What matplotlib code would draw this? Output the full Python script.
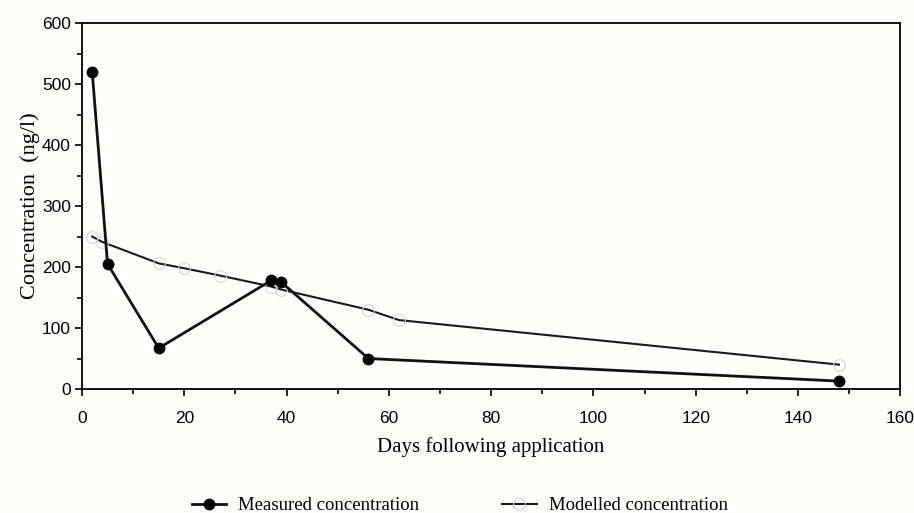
import matplotlib.pyplot as plt
from matplotlib.ticker import MultipleLocator

# measured concentration (ng/l)
measured_days = [2, 5, 15, 37, 39, 56, 148]
measured_conc = [520, 205, 67, 178, 175, 50, 13]

# modelled concentration (ng/l)
modelled_days = [2, 4, 15, 20, 27, 37, 39, 56, 62, 148]
modelled_conc = [250, 241, 206, 198, 186, 168, 163, 130, 113, 40]

serif = "Liberation Serif"
sans = "Liberation Sans"

fig = plt.figure(figsize=(9.14, 5.13), dpi=100)
fig.patch.set_facecolor("#fffffc")
ax = fig.add_axes([0.0897, 0.2417, 0.8953, 0.7133])
ax.set_facecolor("#fffffc")

ax.plot(modelled_days, modelled_conc, color="#1a1a1a", lw=1.5, marker="o",
        ms=8.5, mfc="none", mec="#d4d4d4", mew=0.8, label="Modelled concentration", zorder=2)
ax.plot(measured_days, measured_conc, color="#111111", lw=2.0, marker="o",
        ms=7.5, mfc="black", mec="black", label="Measured concentration", zorder=3)

ax.set_xlim(0, 160)
ax.set_ylim(0, 600)
ax.xaxis.set_major_locator(MultipleLocator(20))
ax.xaxis.set_minor_locator(MultipleLocator(10))
ax.yaxis.set_major_locator(MultipleLocator(100))
ax.yaxis.set_minor_locator(MultipleLocator(50))
ax.tick_params(which="major", direction="out", length=5, width=1.2, labelsize=12.5, pad=3)
ax.tick_params(axis="x", which="major", pad=11)
ax.tick_params(which="minor", direction="out", length=3.5, width=1.2)
for lab in ax.get_xticklabels() + ax.get_yticklabels():
    lab.set_family(sans)
for sp in ax.spines.values():
    sp.set_linewidth(1.3)

ax.set_xlabel("Days following application", family=serif, fontsize=15, labelpad=8)
ax.set_ylabel("Concentration  (ng/l)", family=serif, fontsize=16, labelpad=1)

handles, labels = ax.get_legend_handles_labels()
fig.legend(handles[::-1], labels[::-1], loc="lower center", bbox_to_anchor=(0.503, -0.035),
           ncol=2, frameon=False, prop={"family": serif, "size": 13.5},
           handlelength=1.85, columnspacing=4.4, handletextpad=0.65)

fig.savefig("out.png", dpi=100, facecolor=fig.get_facecolor())
